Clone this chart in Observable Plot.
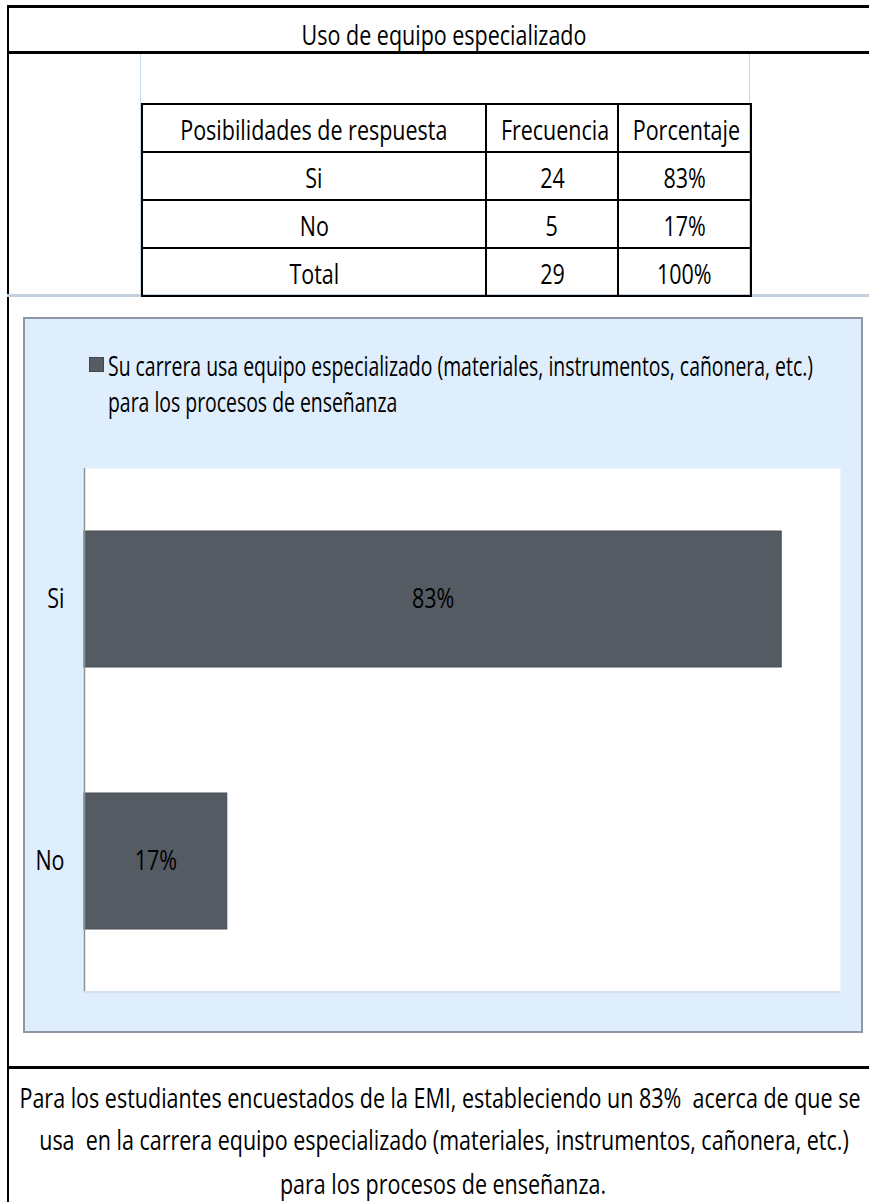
<!DOCTYPE html>
<html>
<head>
<meta charset="utf-8">
<script src="https://cdn.jsdelivr.net/npm/d3@7"></script>
<script src="https://cdn.jsdelivr.net/npm/@observablehq/plot@0.6"></script>
<style>
  html, body { margin: 0; padding: 0; background: #ffffff; }
  #page { position: relative; width: 869px; height: 1202px; overflow: hidden; font-family: "Open Sans", "Noto Sans", sans-serif; color: #000; }
  #page table { position: absolute; border-collapse: collapse; table-layout: fixed; }
  #page td { border: 2px solid #000; padding: 0; text-align: center; vertical-align: middle; font-size: 27px; line-height: 27px; white-space: nowrap; overflow: visible; }
  #page td span { display: inline-block; transform-origin: center; }
</style>
</head>
<body>
<div id="page"></div>
<script>
// ---------------- data ----------------
const titleText = "Uso de equipo especializado";
const headers = ["Posibilidades de respuesta", "Frecuencia", "Porcentaje"];
const categories = ["Si", "No"];
const frequencies = [24, 5];
const percentages = [0.83, 0.17];
const totalLabel = "Total";
const totalFrequency = 29;
const totalPercentage = 1.00;
const legendLines = [
  "Su carrera usa equipo especializado (materiales, instrumentos, cañonera, etc.)",
  "para los procesos de enseñanza"
];
const captionLines = [
  "Para los estudiantes encuestados de la EMI, estableciendo un 83%  acerca de que se",
  "usa  en la carrera equipo especializado (materiales, instrumentos, cañonera, etc.)",
  "para los procesos de enseñanza."
];

// ---------------- helpers ----------------
const FONT = '"Open Sans", "Noto Sans", sans-serif';
const SIZE = 27;
const page = document.getElementById("page");
const pct = d3.format(".0%");

function el(tag, css, parent = page) {
  const e = document.createElement(tag);
  Object.assign(e.style, css);
  parent.appendChild(e);
  return e;
}
function rule(x, y, w, h, color) {
  return el("div", {position: "absolute", left: x + "px", top: y + "px", width: w + "px", height: h + "px", background: color});
}
function naturalWidth(str, size = SIZE) {
  const s = el("span", {position: "absolute", left: "-3000px", top: "0", fontSize: size + "px", fontFamily: FONT, whiteSpace: "pre"});
  s.textContent = str;
  const w = s.getBoundingClientRect().width;
  s.remove();
  return w;
}
function textAt(str, x, y, {size = SIZE, anchor = "middle", k = 1} = {}) {
  const s = el("span", {position: "absolute", left: x + "px", top: (y - size / 2) + "px", fontSize: size + "px",
    lineHeight: size + "px", height: size + "px", whiteSpace: "pre", fontFamily: FONT, color: "#000"});
  s.textContent = str;
  const tx = anchor === "middle" ? "-50%" : anchor === "end" ? "-100%" : "0px";
  s.style.transformOrigin = anchor === "middle" ? "center" : anchor === "end" ? "right" : "left";
  s.style.transform = `translateX(${tx}) scaleX(${k})`;
  return s;
}

// horizontal condensation factors (the reference font is condensed)
const K = 841 / naturalWidth(captionLines[0]);
const KL = 705 / naturalWidth(legendLines[0]);

// ---------------- frame lines & title ----------------
rule(7, 5, 862, 3, "#000");
rule(7, 5, 2, 1197, "#000");
rule(7, 51, 862, 3, "#000");
textAt(titleText, 444, 34, {k: K});

// light box around the table
el("div", {position: "absolute", left: "140px", top: "54px", width: "610px", height: "241px",
  borderLeft: "1px solid #c9d6e3", borderRight: "1px solid #c9d6e3", boxSizing: "border-box"});
// light separator under the table
rule(7, 294, 862, 3, "#c3d1df");

// ---------------- table ----------------
const table = el("table", {left: "141px", top: "103px", width: "609px", height: "193px"});
const colW = [344, 132, 133];
const cg = document.createElement("colgroup");
colW.forEach(w => { const c = document.createElement("col"); c.style.width = w + "px"; cg.appendChild(c); });
table.appendChild(cg);
const rows = [headers, ...categories.map((c, i) => [c, String(frequencies[i]), pct(percentages[i])]),
  [totalLabel, String(totalFrequency), pct(totalPercentage)]];
rows.forEach(r => {
  const tr = document.createElement("tr");
  tr.style.height = "48px";
  r.forEach(v => {
    const td = document.createElement("td");
    td.style.fontFamily = FONT;
    const sp = document.createElement("span");
    sp.textContent = v;
    sp.style.transform = `scaleX(${K})`;
    sp.style.position = "relative";
    sp.style.top = "1px";
    td.appendChild(sp);
    tr.appendChild(td);
  });
  table.appendChild(tr);
});

// ---------------- chart panel ----------------
el("div", {position: "absolute", left: "23px", top: "317px", width: "840px", height: "716px",
  background: "#dfeefc", border: "2px solid #8d98a2", boxSizing: "border-box"});
// legend
el("div", {position: "absolute", left: "89px", top: "357px", width: "15px", height: "15px",
  background: "#575c62", border: "1px solid #43474c", boxSizing: "border-box"});
textAt(legendLines[0], 108, 365, {anchor: "start", k: KL});
textAt(legendLines[1], 108, 401, {anchor: "start", k: KL});

// plot
const data = categories.map((c, i) => ({resp: c, pct: percentages[i]}));
const chart = Plot.plot({
  width: 839,
  height: 570,
  marginLeft: 61,
  marginRight: 22,
  marginTop: 28,
  marginBottom: 18,
  style: {background: "transparent", fontFamily: FONT, fontSize: SIZE + "px", color: "#000", overflow: "visible"},
  x: {domain: [0, 0.9], axis: null},
  y: {domain: categories, paddingInner: 0.48, paddingOuter: 0.24, label: null, tickSize: 0, tickPadding: 20},
  marks: [
    Plot.frame({fill: "#ffffff", stroke: "none"}),
    Plot.barX(data, {x: "pct", y: "resp", fill: "#555b62", stroke: "#4b5056", strokeWidth: 1}),
    Plot.ruleX([0], {stroke: "#8c9196", strokeWidth: 1.5}),
    Plot.text(data, {x: d => d.pct / 2, y: "resp", text: d => pct(d.pct), fill: "#000", fontSize: SIZE})
  ]
});
Object.assign(chart.style, {position: "absolute", left: "23px", top: "440px"});
page.appendChild(chart);
// plot-area bottom edge
rule(84, 991, 756, 2, "#d3e0ec");

// condense the SVG text like the HTML text
chart.querySelectorAll("text").forEach(t => {
  const a = getComputedStyle(t).textAnchor;
  const b = t.getBBox();
  const ax = a === "middle" ? b.x + b.width / 2 : a === "end" ? b.x + b.width : b.x;
  const tr = t.getAttribute("transform") || "";
  t.setAttribute("transform", `${tr} translate(${ax},0) scale(${K},1) translate(${-ax},0)`.trim());
});

// ---------------- caption ----------------
rule(7, 1066, 862, 3, "#000");
textAt(captionLines[0], 440, 1097, {k: K});
textAt(captionLines[1], 444, 1139, {k: K});
textAt(captionLines[2], 443, 1183, {k: K});
</script>
</body>
</html>
